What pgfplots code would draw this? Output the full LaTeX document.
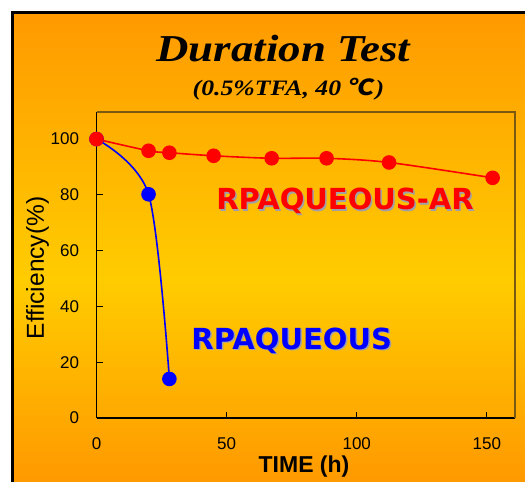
\documentclass[border=0pt]{standalone}
\usepackage{pgfplots}
\pgfplotsset{compat=1.18}
\usepackage{fontspec}
\setmainfont{Liberation Sans}
\newfontfamily\titlefont{Liberation Serif}
\newfontfamily\labfont{DejaVu Sans}
\newfontfamily\cjk[FakeSlant=0.15]{Noto Sans CJK SC}
\definecolor{orangeA}{HTML}{FF9900}
\definecolor{yellowA}{HTML}{FFCC00}
\definecolor{frameB}{HTML}{7A5A10}
\definecolor{shadowG}{HTML}{A0A0A8}
\begin{document}
\begin{tikzpicture}[x=1bp,y=1bp]
\clip (0,0) rectangle (525,482);
\fill[white] (0,0) rectangle (525,482);
\foreach \i in {0,...,157} {
  \pgfmathsetmacro{\ytop}{469.5-3*\i}
  \pgfmathsetmacro{\ymid}{\ytop-1.5}
  \pgfmathtruncatemacro{\p}{\ymid>202 ? ((\ymid-202)/267.5)*100 : ((202-\ymid)/202)*100}
  \fill[orangeA!\p!yellowA] (12.5,\ytop+0.3) rectangle (545,\ytop-3);
}
\draw[black, line width=3.2bp] (12.5,-90) -- (12.5,469.5) -- (545,469.5);
% titles
\node[font={\titlefont\bfseries\itshape\fontsize{38bp}{44bp}\selectfont}, anchor=base] at (283.5,420) {\scalebox{1.18}[1]{Duration Test}};
\node[font={\titlefont\bfseries\itshape\fontsize{22bp}{26bp}\selectfont}, anchor=base] at (288.5,386.5) {\scalebox{1.17}[1]{(0.5\%TFA, 40 {\cjk ℃}\kern2bp)}};
\begin{axis}[
  at={(96.5bp,64bp)}, anchor=south west,
  width=418.5bp, height=306bp, scale only axis,
  xmin=0, xmax=160.8, ymin=0, ymax=109.7,
  axis x line*=bottom, axis y line*=left,
  axis line style={black, line width=1.1bp},
  xtick={0,50,100,150}, ytick={0,20,40,60,80,100},
  tick align=inside, major tick length=6bp,
  tick style={black, line width=0.9bp},
  /pgf/number format/assume math mode=true,
  ticklabel style={font=\fontsize{17bp}{20bp}\selectfont},
  xticklabel style={yshift=-16bp},
  yticklabel style={xshift=-14bp},
  clip=false,
]
\draw[frameB, line width=1.3bp] (rel axis cs:0,1) -- (rel axis cs:1,1) -- (rel axis cs:1,0);
\addplot[blue, line width=1.6bp, smooth, mark=*, mark size=6.5bp, mark options={solid, fill=blue, draw=blue}] coordinates {
 (0,100) (20,80.2) (28,14)
};
\addplot[red, line width=1.6bp, smooth, mark=*, mark size=6.5bp, mark options={solid, fill=red, draw=red}] coordinates {
 (0,100) (20,95.8) (28,95.1) (45,94.0) (67.3,93.1) (88.4,93.1) (112.4,91.6) (152.2,86.1)
};
\end{axis}
\node[rotate=90, font=\fontsize{24.5bp}{28bp}\selectfont] at (37.5,214) {Efficiency(\%)};
\node[font=\bfseries\fontsize{23bp}{27bp}\selectfont] at (304,15.5) {TIME (h)};
% series labels
\node[font={\labfont\bfseries\fontsize{29bp}{34bp}\selectfont}, text=shadowG] at (346.5,279.5) {RPAQUEOUS-AR};
\node[font={\labfont\bfseries\fontsize{29bp}{34bp}\selectfont}, text=red] at (345,281) {RPAQUEOUS-AR};
\node[font={\labfont\bfseries\fontsize{29bp}{34bp}\selectfont}, text=shadowG] at (293.2,140) {RPAQUEOUS};
\node[font={\labfont\bfseries\fontsize{29bp}{34bp}\selectfont}, text=blue] at (291.7,141.5) {RPAQUEOUS};
\end{tikzpicture}
\end{document}
